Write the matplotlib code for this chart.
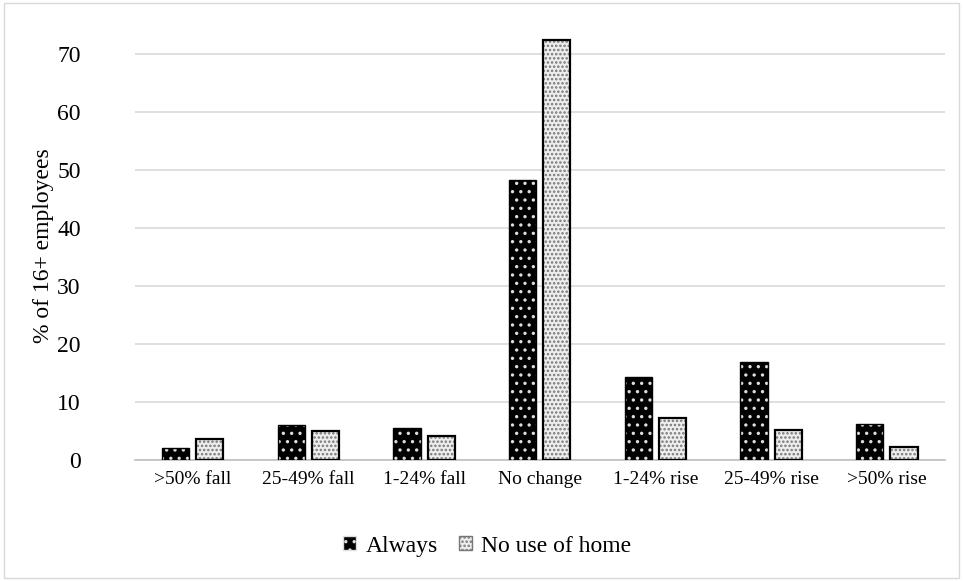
import matplotlib
matplotlib.use("Agg")
import matplotlib.pyplot as plt
import numpy as np
from matplotlib.patches import Rectangle, Patch

plt.rcParams.update({
    "font.family": ["Liberation Serif", "DejaVu Serif"],
    "font.size": 14,
    "hatch.linewidth": 1.2,
})

categories = [">50% fall", "25-49% fall", "1-24% fall", "No change",
              "1-24% rise", "25-49% rise", ">50% rise"]
always = [2.1, 6.0, 5.5, 48.3, 14.3, 16.9, 6.2]
no_home = [3.6, 5.0, 4.1, 72.4, 7.2, 5.2, 2.2]
yticks = [0, 10, 20, 30, 40, 50, 60, 70]

fig = plt.figure(figsize=(9.63, 5.81), dpi=100)
ax = fig.add_axes([0.140, 0.208, 0.841, 0.739])

x = np.arange(len(categories))
w = 0.235
gap = 0.03

# Always: black with white dots
ax.bar(x - w / 2 - gap, always, w, color="black", edgecolor="#dddddd",
       hatch="..", linewidth=0, zorder=3)
ax.bar(x - w / 2 - gap, always, w, fill=False, edgecolor="black",
       linewidth=1.0, zorder=4)
# No use of home: light dotted with black outline
ax.bar(x + w / 2 + gap, no_home, w, color="#eeeeee", edgecolor="#777777",
       hatch="....", linewidth=0, zorder=3)
ax.bar(x + w / 2 + gap, no_home, w, fill=False, edgecolor="black",
       linewidth=1.6, zorder=4)

ax.set_xlim(-0.5, len(categories) - 0.5)
ax.set_ylim(0, 74)
ax.set_yticks(yticks)
ax.set_xticks(x)
ax.set_xticklabels(categories)
ax.tick_params(axis="both", length=0)
ax.tick_params(axis="x", pad=8, labelsize=14)
ax.tick_params(axis="y", pad=39, labelsize=17)
ax.grid(axis="y", color="#d9d9d9", linewidth=1.2, zorder=0)
ax.set_axisbelow(True)
for s in ["top", "right", "left"]:
    ax.spines[s].set_visible(False)
ax.spines["bottom"].set_color("#bfbfbf")
ax.spines["bottom"].set_linewidth(1.2)
ax.set_ylabel("% of 16+ employees", fontsize=17, labelpad=2)

# legend
handles = [
    Patch(facecolor="black", edgecolor="#dddddd", hatch="..", label="Always"),
    Patch(facecolor="#eeeeee", edgecolor="#777777", hatch="....", label="No use of home"),
]
fig.legend(handles=handles, loc="center", bbox_to_anchor=(0.506, 0.06), ncol=2,
           frameon=False, fontsize=17, handlelength=0.55, handleheight=0.55,
           handletextpad=0.4, columnspacing=0.9)

fig.patches.append(Rectangle((0.004, 0.006), 0.992, 0.988, transform=fig.transFigure,
                             fill=False, edgecolor="#d9d9d9", linewidth=1))

fig.savefig("out.png", dpi=100)
